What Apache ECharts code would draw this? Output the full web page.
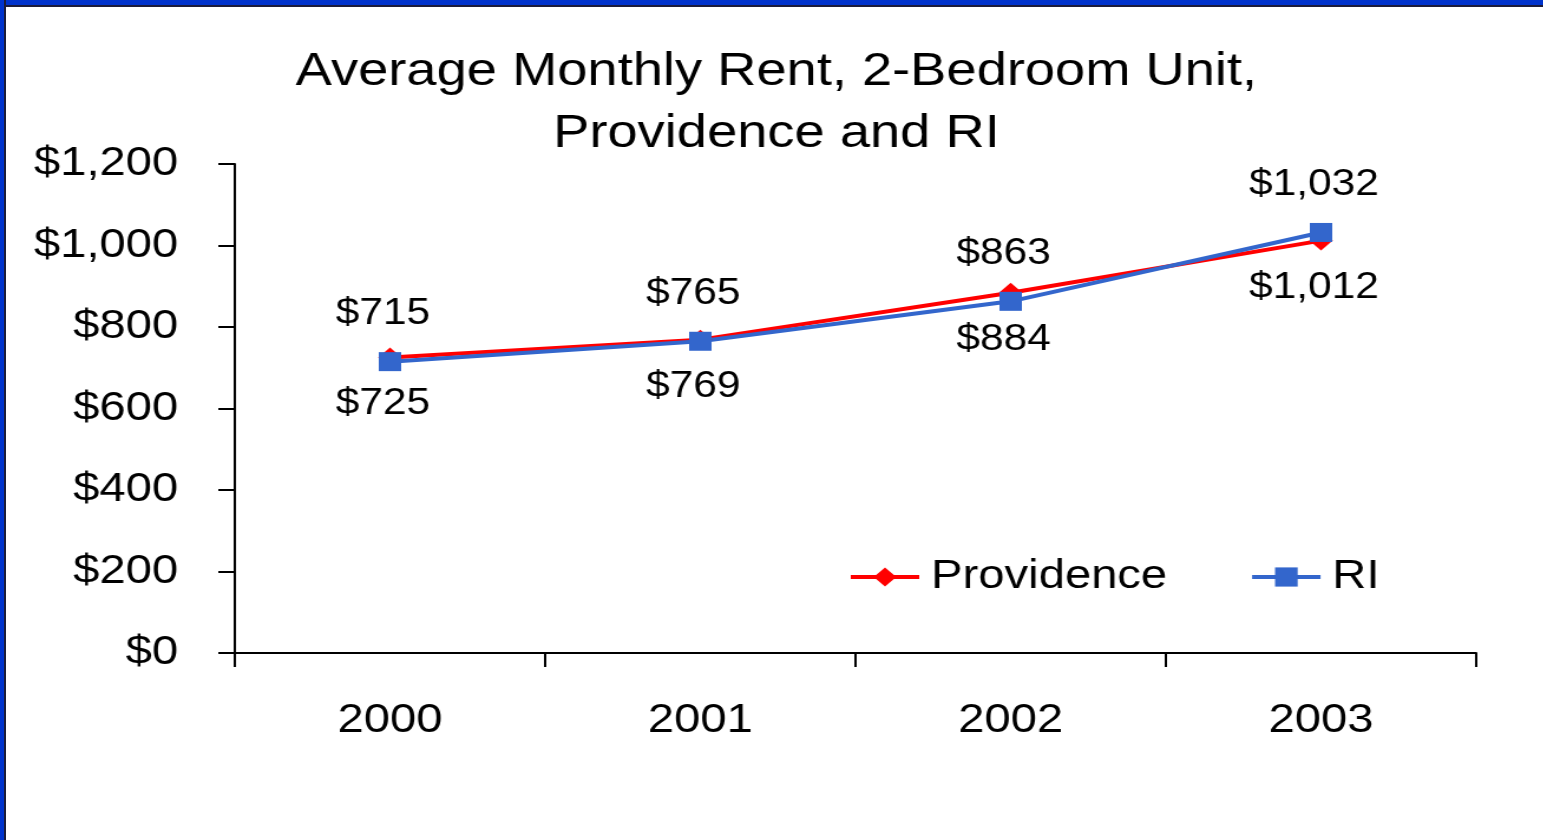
<!DOCTYPE html>
<html>
<head>
<meta charset="utf-8">
<title>Average Monthly Rent</title>
<script src="https://cdn.jsdelivr.net/npm/echarts@6/dist/echarts.min.js"></script>
<style>
	html, body { margin: 0; padding: 0; background: #fff; overflow: hidden; }
	#wrap { position: relative; width: 1543px; height: 840px; overflow: hidden; }
	/* the source picture is stretched sideways, so the chart is too */
	#container { position: absolute; left: 0; top: 0; width: 1308px; height: 840px;
		transform: scaleX(1.18); transform-origin: 0 0; }
	#frameTop { position: absolute; left: 0; top: 0; width: 1543px; height: 5px; background: #0033cc;
		border-bottom: 2px solid #1c1c3a; }
	#frameLeft { position: absolute; left: 0; top: 0; width: 4px; height: 840px; background: #0033cc;
		border-right: 2px solid #1c1c3a; }
</style>
</head>
<body>
<div id="wrap">
	<div id="container"></div>
	<div id="frameTop"></div>
	<div id="frameLeft"></div>
</div>
<script>
var years = ['2000', '2001', '2002', '2003'];
var providence = [725, 769, 884, 1012];
var ri = [715, 765, 863, 1032];

(function() {
	var font = '"Liberation Sans", Arial, sans-serif';
	function money(v) {
		return '$' + Number(v).toLocaleString('en-US');
	}
	var myChart = echarts.init(document.getElementById('container'));
	var option = {
		animation: false,
		title: {
			text: 'Average Monthly Rent, 2-Bedroom Unit,\nProvidence and RI',
			left: 653,
			textAlign: 'center',
			top: 36,
			textStyle: {
				fontFamily: font,
				fontSize: 46,
				fontWeight: 'normal',
				color: '#000',
				lineHeight: 62
			}
		},
		legend: {
			data: ['Providence', 'RI'],
			left: 714,
			top: 552,
			itemWidth: 58,
			itemHeight: 24,
			itemGap: 70,
			lineStyle: { width: 4 },
			textStyle: {
				fontFamily: font,
				fontSize: 40,
				color: '#000',
				padding: [0, 0, 0, 5]
			}
		},
		grid: {
			left: 199,
			right: 57,
			top: 164,
			bottom: 187
		},
		xAxis: {
			type: 'category',
			data: years,
			boundaryGap: true,
			axisLine: { lineStyle: { color: '#000', width: 2 } },
			axisTick: { show: true, length: 14, lineStyle: { color: '#000', width: 2 } },
			axisLabel: {
				margin: 48,
				fontFamily: font,
				fontSize: 40,
				color: '#000'
			}
		},
		yAxis: {
			type: 'value',
			min: 0,
			max: 1200,
			interval: 200,
			splitLine: { show: false },
			axisLine: { show: true, lineStyle: { color: '#000', width: 2 } },
			axisTick: { show: true, length: 14, lineStyle: { color: '#000', width: 2 } },
			axisLabel: {
				margin: 48,
				fontFamily: font,
				fontSize: 40,
				color: '#000',
				formatter: money
			}
		},
		series: [
			{
				name: 'Providence',
				type: 'line',
				data: providence,
				symbol: 'diamond',
				symbolSize: 20,
				itemStyle: { color: '#ff0000' },
				lineStyle: { color: '#ff0000', width: 4 },
				label: {
					show: true,
					position: 'bottom',
					distance: 19,
					offset: [-6, 0],
					fontFamily: font,
					fontSize: 36,
					color: '#000',
					formatter: function(p) { return money(p.value); }
				}
			},
			{
				name: 'RI',
				type: 'line',
				data: ri,
				symbol: 'rect',
				symbolSize: 19,
				itemStyle: { color: '#3366cc' },
				lineStyle: { color: '#3366cc', width: 4 },
				label: {
					show: true,
					position: 'top',
					distance: 20,
					offset: [-6, 0],
					fontFamily: font,
					fontSize: 36,
					color: '#000',
					formatter: function(p) { return money(p.value); }
				}
			}
		]
	};
	myChart.setOption(option);
})();
</script>
</body>
</html>
